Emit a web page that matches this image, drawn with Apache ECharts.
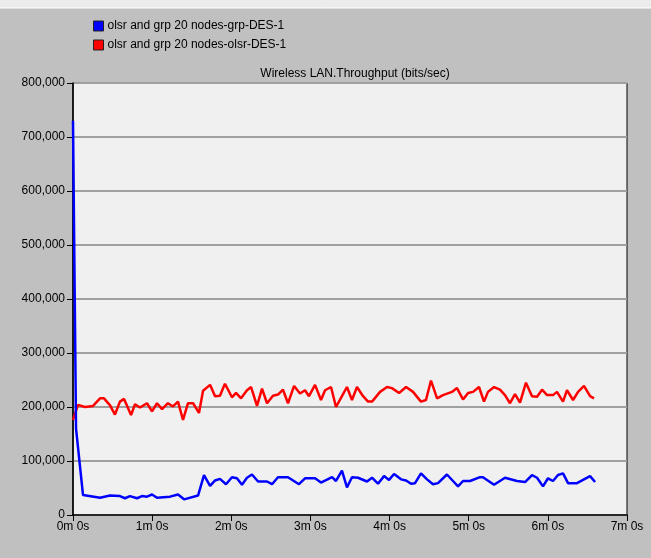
<!DOCTYPE html>
<html>
<head>
<meta charset="utf-8">
<script src="https://cdn.jsdelivr.net/npm/echarts@6/dist/echarts.min.js"></script>
<style>
  html, body { margin: 0; padding: 0; background: #c0c0c0; }
  #chart { width: 651px; height: 558px; }
</style>
</head>
<body>
<div id="chart"></div>
<script>
// time in seconds, throughput in bits/sec
var grpTimes = [0, 2.3, 7.6, 20.5, 28.1, 35.6, 39.4, 43.2, 48.5, 52.3, 56.1, 59.9, 63.7, 73.5, 79.6, 84.2, 94.8,
    99.3, 103.9, 107.7, 111.4, 116.0, 120.5, 124.3, 128.1, 131.9, 135.7, 140.3, 147.1, 150.9, 155.4, 163.0,
    171.3, 175.9, 183.5, 188.0, 196.4, 199.4, 203.9, 207.7, 211.5, 216.1, 222.9, 226.7, 231.2, 235.8, 239.6,
    243.4, 248.7, 252.5, 256.3, 259.3, 263.8, 268.4, 272.9, 276.7, 283.5, 288.1, 291.9, 295.7, 301.0, 308.6,
    310.8, 319.2, 327.5, 336.6, 342.7, 348.0, 351.8, 356.3, 360.1, 363.9, 367.7, 371.5, 375.3, 382.1, 392.0, 395.8];
var grpValues = [730000, 160000, 37000, 32000, 36000, 35000, 31000, 35000, 31000, 35000, 34000, 38000, 32000, 34000, 38000, 29000, 36000,
    74000, 54000, 64000, 67000, 57000, 70000, 68000, 56000, 69000, 75000, 62000, 62000, 57000, 70000, 70000,
    57000, 68000, 68000, 60000, 70000, 63000, 82000, 51000, 70000, 69000, 62000, 69000, 58000, 72000, 65000,
    76000, 66000, 64000, 58000, 59000, 77000, 66000, 57000, 59000, 75000, 63000, 53000, 63000, 63000, 70000,
    70000, 56000, 69000, 63000, 61000, 74000, 69000, 53000, 68000, 63000, 74000, 77000, 59000, 59000, 72000, 61000];

var olsrTimes = [0, 3.8, 9.1, 15.2, 20.5, 23.5, 28.1, 31.8, 35.6, 38.7, 44.0, 47.0, 50.8, 56.1, 59.9, 63.7, 67.5,
    72.0, 75.8, 79.6, 83.4, 87.2, 91.0, 95.5, 98.6, 103.9, 107.7, 111.4, 115.2, 120.5, 123.6, 127.4, 131.9,
    135.0, 139.5, 143.3, 147.1, 151.6, 155.4, 159.2, 163.0, 167.6, 172.1, 175.9, 178.9, 183.5, 188.0, 191.1,
    195.6, 199.4, 203.9, 207.7, 211.5, 215.3, 219.9, 223.7, 226.7, 232.8, 238.1, 241.8, 247.2, 252.5, 257.8,
    263.8, 267.6, 271.4, 276.0, 280.5, 287.3, 291.1, 295.7, 299.5, 303.3, 307.8, 311.6, 314.6, 319.2, 323.7,
    327.5, 331.3, 335.1, 338.9, 343.4, 348.0, 351.8, 355.6, 359.4, 363.9, 366.9, 371.5, 374.5, 379.1, 382.9,
    387.4, 392.0, 395.0];
var olsrValues = [176000, 204000, 200000, 202000, 216000, 216000, 203000, 186000, 210000, 215000, 185000, 205000, 199000, 207000, 192000, 207000, 196000,
    207000, 201000, 210000, 176000, 207000, 207000, 189000, 230000, 241000, 220000, 221000, 243000, 218000, 226000, 216000, 231000,
    237000, 202000, 234000, 207000, 221000, 223000, 232000, 207000, 239000, 225000, 231000, 220000, 241000, 213000, 231000,
    237000, 200000, 220000, 237000, 213000, 237000, 220000, 210000, 210000, 228000, 237000, 235000, 226000, 237000, 228000,
    210000, 213000, 249000, 216000, 222000, 228000, 235000, 214000, 226000, 228000, 237000, 210000, 228000, 237000, 232000,
    222000, 207000, 224000, 208000, 245000, 220000, 219000, 232000, 222000, 222000, 228000, 210000, 231000, 213000, 228000,
    239000, 220000, 216000];

var seriesNames = ['olsr and grp 20 nodes-grp-DES-1', 'olsr and grp 20 nodes-olsr-DES-1'];

function pairs(xs, ys) {
    return xs.map(function (x, i) { return [x, ys[i]]; });
}

var myChart = echarts.init(document.getElementById('chart'));
var font = 'Liberation Sans, Arial, sans-serif';

myChart.setOption({
    backgroundColor: '#c0c0c0',
    animation: false,
    textStyle: { fontFamily: font },
    graphic: [{
        type: 'rect',
        shape: { x: 0, y: 0, width: 651, height: 8 },
        style: { fill: '#ececec' }
    }, {
        type: 'line',
        shape: { x1: 0, y1: 8, x2: 651, y2: 8 },
        style: { stroke: '#ffffff', lineWidth: 1 }
    }],
    title: {
        text: 'Wireless LAN.Throughput (bits/sec)',
        left: 350,
        top: 63,
        textAlign: 'center',
        textStyle: { fontSize: 12, fontWeight: 'normal', color: '#000', fontFamily: font }
    },
    legend: {
        orient: 'vertical',
        left: 88,
        top: 15,
        itemGap: 7,
        itemWidth: 10,
        itemHeight: 10,
        icon: 'rect',
        itemStyle: { borderColor: '#222', borderWidth: 1 },
        textStyle: { fontSize: 12, color: '#000', fontFamily: font, padding: [0, 0, 0, -1] },
        data: seriesNames
    },
    grid: {
        left: 73,
        right: 24,
        top: 83,
        bottom: 43,
        show: true,
        backgroundColor: '#f0f0f0',
        borderColor: '#000',
        borderWidth: 1
    },
    xAxis: {
        type: 'value',
        min: 0,
        max: 420,
        interval: 60,
        axisLine: { lineStyle: { color: '#000', width: 1.5 } },
        axisTick: { show: true, length: 6, lineStyle: { color: '#000' } },
        axisLabel: {
            color: '#000',
            fontSize: 12,
            margin: 6,
            formatter: function (v) { return (v / 60) + 'm 0s'; }
        },
        splitLine: { show: false }
    },
    yAxis: {
        type: 'value',
        min: 0,
        max: 800000,
        interval: 100000,
        axisLine: { show: true, lineStyle: { color: '#000', width: 1.5 } },
        axisTick: { show: true, length: 6, lineStyle: { color: '#000' } },
        axisLabel: {
            color: '#000',
            fontSize: 12,
            margin: 8,
            formatter: function (v) { return v.toLocaleString('en-US'); }
        },
        splitLine: { show: true, lineStyle: { color: '#a0a0a0', width: 2 } }
    },
    series: [{
        name: seriesNames[0],
        type: 'line',
        symbol: 'none',
        color: '#0000ff',
        lineStyle: { width: 2.5, color: '#0000ff' },
        z: 3,
        data: pairs(grpTimes, grpValues)
    }, {
        name: seriesNames[1],
        type: 'line',
        symbol: 'none',
        color: '#ff0000',
        lineStyle: { width: 2.5, color: '#ff0000' },
        z: 2,
        data: pairs(olsrTimes, olsrValues)
    }]
});
</script>
</body>
</html>
